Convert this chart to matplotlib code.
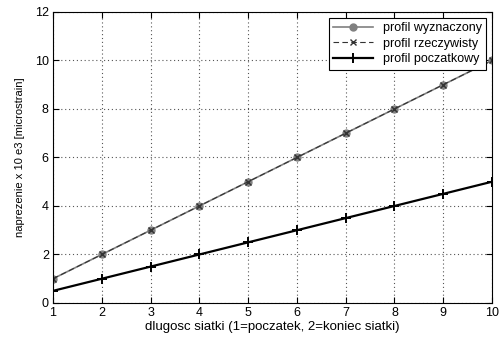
import numpy as np
import matplotlib
matplotlib.use("Agg")
import matplotlib.pyplot as plt

# data
x = [1, 2, 3, 4, 5, 6, 7, 8, 9, 10]
wyznaczony = [1, 2, 3, 4, 5, 6, 7, 8, 9, 10]
rzeczywisty = [1, 2, 3, 4, 5, 6, 7, 8, 9, 10]
poczatkowy = [0.5, 1.0, 1.5, 2.0, 2.5, 3.0, 3.5, 4.0, 4.5, 5.0]
labels = ["profil wyznaczony", "profil rzeczywisty", "profil poczatkowy"]

plt.rcParams['font.family'] = ['Liberation Sans', 'DejaVu Sans']

fig = plt.figure(figsize=(5.02, 3.38), dpi=100)
ax = fig.add_axes([0.1056, 0.1036, 0.8745, 0.861])

ax.plot(x, wyznaczony, color='#808080', lw=1.2, marker='o', ms=5,
        mfc='#808080', mec='#808080', label=labels[0])
ax.plot(x, rzeczywisty, color='#333333', lw=0.8, ls='--', dashes=(5, 3),
        marker='x', ms=4, label=labels[1])
ax.plot(x, poczatkowy, color='black', lw=1.6, marker='+', ms=7, mew=1.4,
        label=labels[2])

ax.set_xlim(1, 10)
ax.set_ylim(0, 12)
ax.set_xticks(np.arange(1, 11))
ax.set_yticks(np.arange(0, 13, 2))
ax.tick_params(direction='in', top=True, right=True, labelsize=9, length=4, pad=3)
ax.grid(True, ls=(0, (1, 2.5)), color='#555555', lw=0.8)
for s in ax.spines.values():
    s.set_linewidth(0.8)

ax.set_xlabel("dlugosc siatki (1=poczatek, 2=koniec siatki)", fontsize=9.5, labelpad=1)
ax.set_ylabel("naprezenie x 10 e3 [microstrain]", fontsize=8, labelpad=7)

leg = ax.legend(loc='upper right', fontsize=9, fancybox=False, framealpha=1,
                edgecolor='black', handlelength=3.2, borderaxespad=0.45,
                labelspacing=0.3, borderpad=0.35)
leg.get_frame().set_linewidth(0.8)

fig.savefig("out.png", dpi=100)
